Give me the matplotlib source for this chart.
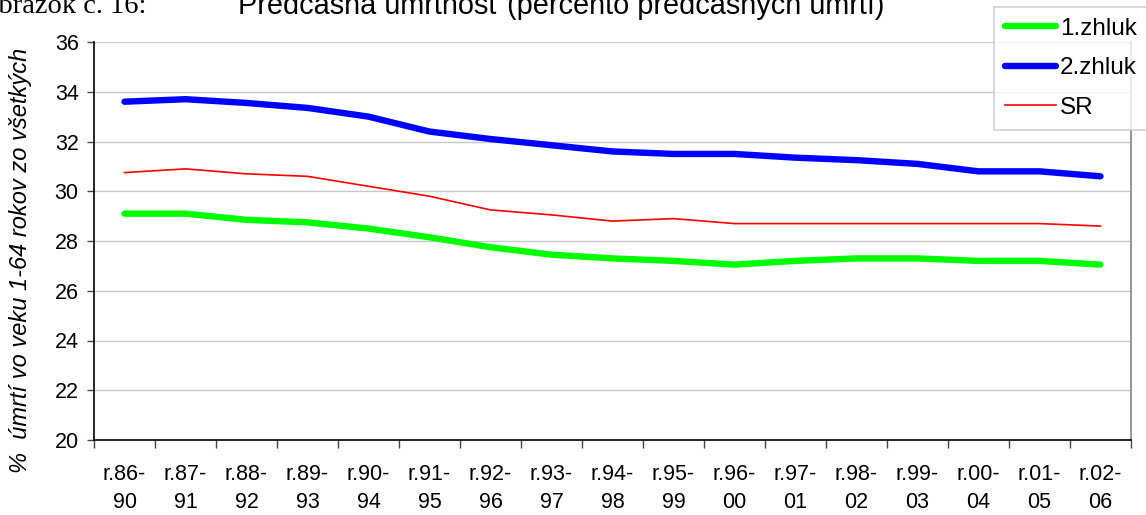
import matplotlib
matplotlib.use("Agg")
import matplotlib.pyplot as plt
import numpy as np

# obdobia (5-ročné kĺzavé)
obdobia = ["r.86-\n90", "r.87-\n91", "r.88-\n92", "r.89-\n93", "r.90-\n94", "r.91-\n95",
           "r.92-\n96", "r.93-\n97", "r.94-\n98", "r.95-\n99", "r.96-\n00", "r.97-\n01",
           "r.98-\n02", "r.99-\n03", "r.00-\n04", "r.01-\n05", "r.02-\n06"]

zhluk1 = [29.1, 29.1, 28.85, 28.75, 28.5, 28.15, 27.75, 27.45, 27.3, 27.2,
          27.05, 27.2, 27.3, 27.3, 27.2, 27.2, 27.05]
zhluk2 = [33.6, 33.7, 33.55, 33.35, 33.0, 32.4, 32.1, 31.85, 31.6, 31.5,
          31.5, 31.35, 31.25, 31.1, 30.8, 30.8, 30.6]
sr = [30.75, 30.9, 30.7, 30.6, 30.2, 29.8, 29.25, 29.05, 28.8, 28.9,
      28.7, 28.7, 28.7, 28.7, 28.7, 28.7, 28.6]

plt.rcParams['font.family'] = ['Liberation Sans', 'DejaVu Sans']

W, H = 1146, 515
fig = plt.figure(figsize=(W / 100, H / 100), dpi=100)
ax = fig.add_axes([94 / W, 1 - 440 / H, (1131 - 94) / W, (440 - 42) / H])

x = np.arange(len(obdobia))
l1, = ax.plot(x, zhluk1, color="#00FF00", lw=4.6, solid_capstyle="round", label="1.zhluk")
l2, = ax.plot(x, zhluk2, color="#0000FF", lw=4.6, solid_capstyle="round", label="2.zhluk")
l3, = ax.plot(x, sr, color="#FF0000", lw=1.2, label="SR")

ax.set_xlim(-0.5, len(obdobia) - 0.5)
ax.set_ylim(20, 36)
ax.set_yticks(np.arange(20, 37, 2))
ax.tick_params(axis="y", labelsize=15.5, length=5, width=1, color="#444444", pad=6)
ax.yaxis.grid(True, color="#c8c8c8", lw=1)
ax.set_axisbelow(True)

ax.set_xticks(x)
ax.set_xticklabels(obdobia, fontsize=15.5, linespacing=1.45)
ax.tick_params(axis="x", which="major", length=0, pad=17)
ax.set_xticks(np.arange(-0.5, len(obdobia), 1), minor=True)
ax.tick_params(axis="x", which="minor", length=6, width=1, color="#444444")

for s in ["left", "bottom"]:
    ax.spines[s].set_color("black")
    ax.spines[s].set_linewidth(1.2)
ax.spines["top"].set_visible(False)
ax.spines["right"].set_color("#999999")
ax.spines["right"].set_linewidth(1.5)

fig.text(21 / W, 1 - 260 / H, "%  úmrtí vo veku 1-64 rokov zo všetkých",
         rotation=90, ha="center", va="center", fontsize=17, style="italic")

fig.text(238 / W, 1 - 14 / H, "Predčasná úmrtnosť (percento predčasných úmrtí)",
         ha="left", va="baseline", fontsize=20.8)
fig.text(146 / W, 1 - 13 / H, "Obrázok č. 16:", ha="right", va="baseline",
         fontsize=20.5, family=["Liberation Serif", "DejaVu Serif"])

leg = fig.legend(handles=[l1, l2, l3], loc="upper left",
                 bbox_to_anchor=(994 / W, 1 - 7 / H), fontsize=17.5,
                 frameon=True, fancybox=False, handlelength=2.1, handletextpad=0.17,
                 labelspacing=0.72, borderpad=0.45, borderaxespad=0)
leg.get_frame().set_edgecolor("#c8c8c8")
leg.get_frame().set_linewidth(1.2)

fig.savefig("out.png", dpi=100)
